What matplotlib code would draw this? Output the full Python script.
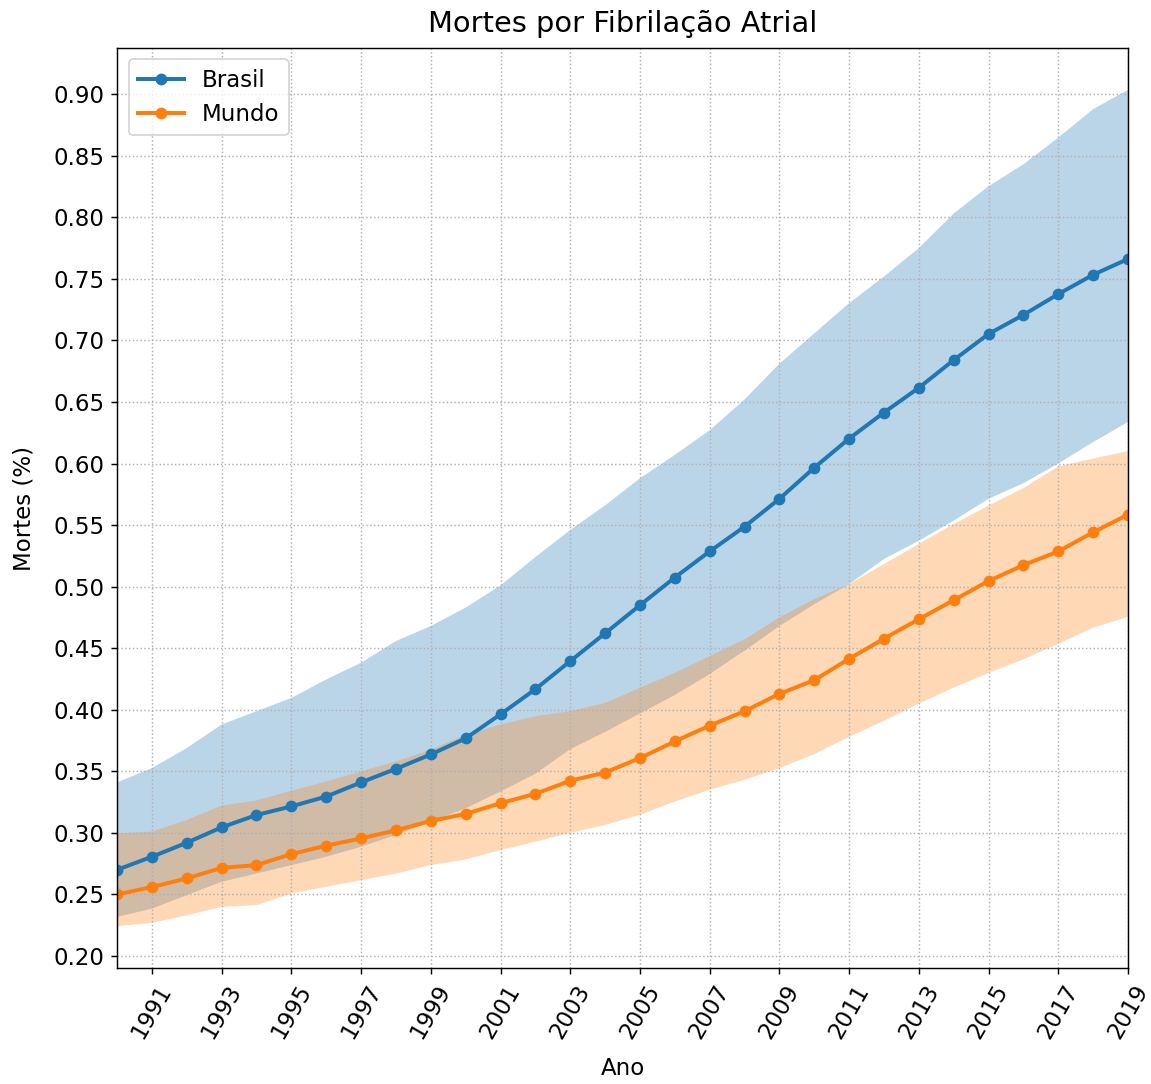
import numpy as np
import matplotlib
matplotlib.use("Agg")
import matplotlib.pyplot as plt

# mortes por fibrilacao atrial (%), Brasil x Mundo, com intervalo
anos = list(range(1990, 2020))

brasil = [0.270, 0.2806, 0.292, 0.3045, 0.3145, 0.3215, 0.3295, 0.341, 0.352, 0.3637,
          0.3768, 0.3963, 0.4167, 0.4395, 0.4621, 0.4849, 0.5074, 0.5286, 0.5487, 0.5713,
          0.5966, 0.6202, 0.6414, 0.6615, 0.684, 0.7052, 0.7207, 0.7376, 0.7533, 0.7661]
brasil_sup = [0.341, 0.3526, 0.3689, 0.388, 0.3988, 0.4096, 0.4246, 0.4382, 0.4558, 0.468,
              0.483, 0.501, 0.524, 0.546, 0.566, 0.588, 0.607, 0.627, 0.652, 0.681,
              0.7057, 0.7302, 0.7519, 0.775, 0.803, 0.8253, 0.843, 0.8647, 0.8878, 0.9035]
brasil_inf = [0.2317, 0.2385, 0.2494, 0.2603, 0.267, 0.2738, 0.2806, 0.2888, 0.2983, 0.3092,
              0.32, 0.3336, 0.348, 0.368, 0.382, 0.397, 0.412, 0.429, 0.448, 0.468,
              0.4857, 0.502, 0.5224, 0.5373, 0.5536, 0.5713, 0.584, 0.600, 0.6174, 0.6337]

mundo = [0.250, 0.256, 0.263, 0.2716, 0.2738, 0.2828, 0.2896, 0.2955, 0.302, 0.3097,
         0.3154, 0.3241, 0.3317, 0.3423, 0.349, 0.3607, 0.3743, 0.3871, 0.3988, 0.4129,
         0.424, 0.4414, 0.4577, 0.4735, 0.489, 0.5045, 0.5175, 0.5286, 0.5441, 0.5585]
mundo_sup = [0.2996, 0.301, 0.3105, 0.3222, 0.3263, 0.3342, 0.3417, 0.3499, 0.358, 0.3676,
             0.3798, 0.388, 0.3947, 0.3988, 0.4055, 0.4178, 0.43, 0.4436, 0.4572, 0.475,
             0.4898, 0.502, 0.5183, 0.5346, 0.5509, 0.5658, 0.58, 0.5976, 0.604, 0.6101]
mundo_inf = [0.2242, 0.227, 0.233, 0.2399, 0.2413, 0.2507, 0.2562, 0.2616, 0.267, 0.2738,
             0.2784, 0.2861, 0.2928, 0.3, 0.3064, 0.3146, 0.3255, 0.335, 0.3431, 0.3526,
             0.364, 0.378, 0.391, 0.405, 0.418, 0.430, 0.441, 0.4535, 0.4667, 0.4754]

plt.rcParams['font.size'] = 12.7

fig = plt.figure(figsize=(1151 / 130, 1084 / 130), dpi=130)
ax = fig.add_subplot(111)
fig.subplots_adjust(left=0.1017, right=0.980, top=0.9557, bottom=0.107)

ax.plot(anos, brasil, marker='o', markersize=5.5, linewidth=2.2, label='Brasil')
ax.fill_between(anos, brasil_inf, brasil_sup, alpha=0.3)
ax.plot(anos, mundo, marker='o', markersize=5.5, linewidth=2.2, label='Mundo')
ax.fill_between(anos, mundo_inf, mundo_sup, alpha=0.3)

ax.set_xlim(1990, 2019)
ax.set_xticks(list(range(1991, 2020, 2)))
ax.set_yticks(np.arange(0.20, 0.91, 0.05))
plt.xticks(rotation=60)
ax.grid(linestyle=':')

ax.set_title('Mortes por Fibrilação Atrial', fontsize=16, pad=9)
ax.set_xlabel('Ano', labelpad=8)
ax.set_ylabel('Mortes (%)', labelpad=10)
ax.legend(loc='upper left')

plt.savefig('out.png', dpi=130)
